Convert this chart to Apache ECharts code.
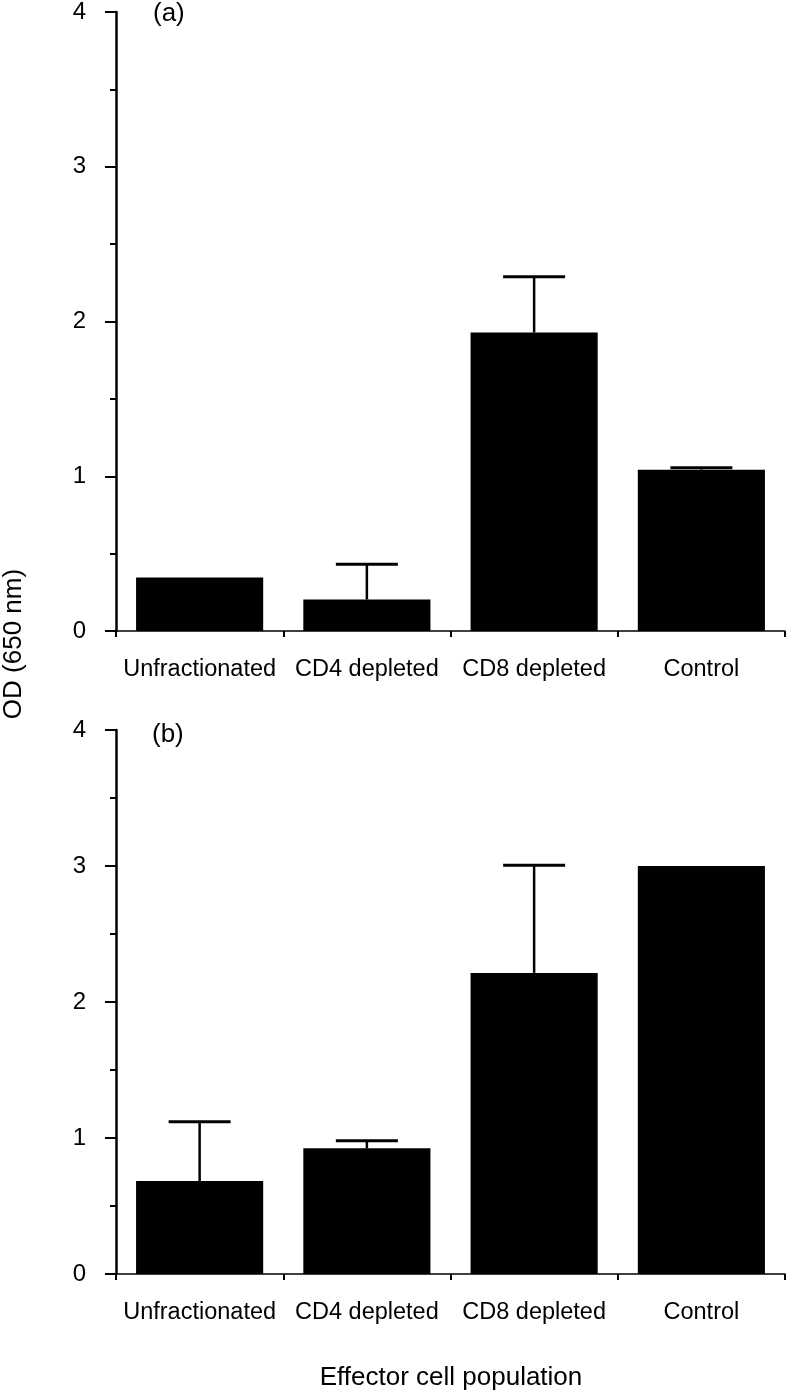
<!DOCTYPE html>
<html>
<head>
<meta charset="utf-8">
<script src="https://cdn.jsdelivr.net/npm/echarts@6/dist/echarts.min.js"></script>
<style>html,body{margin:0;padding:0;background:#fff;}#chart{width:787px;height:1391px;}</style>
</head>
<body>
<div id="chart"></div>
<script>
const categories = ['Unfractionated', 'CD4 depleted', 'CD8 depleted', 'Control'];
const meanA = [0.345, 0.204, 1.929, 1.042];
const upperA = [null, 0.431, 2.289, 1.055];
const meanB = [0.683, 0.924, 2.214, 3.0];
const upperB = [1.119, 0.979, 3.005, null];
const yTicks = [0, 1, 2, 3, 4];
const panelLabels = ['(a)', '(b)'];
const yTitle = 'OD (650 nm)';
const xTitle = 'Effector cell population';

const FONT = '"Liberation Sans", Arial, Helvetica, sans-serif';

function errData(mean, upper) {
  const out = [];
  categories.forEach((c, i) => { if (upper[i] != null) out.push([i, mean[i], upper[i]]); });
  return out;
}

function renderErr(params, api) {
  const base = api.coord([api.value(0), api.value(1)]);
  const top = api.coord([api.value(0), api.value(2)]);
  return {
    type: 'group',
    children: [
      { type: 'line', shape: { x1: base[0], y1: base[1], x2: base[0], y2: top[1] }, style: { stroke: '#000', lineWidth: 2.5 } },
      { type: 'line', shape: { x1: base[0] - 31, y1: top[1], x2: base[0] + 31, y2: top[1] }, style: { stroke: '#000', lineWidth: 3 } }
    ]
  };
}

function xAxisCfg(gi) {
  return {
    type: 'category', gridIndex: gi, data: categories, boundaryGap: true,
    axisLine: { lineStyle: { color: '#000', width: 1.5 } },
    axisTick: { show: true, length: 6, lineStyle: { color: '#000', width: 2 } },
    axisLabel: { color: '#000', fontSize: 23.5, fontFamily: FONT, margin: 27, interval: 0 },
    splitLine: { show: false }
  };
}
function yAxisCfg(gi) {
  return {
    type: 'value', gridIndex: gi, min: yTicks[0], max: yTicks[yTicks.length - 1], interval: 1,
    axisLine: { show: true, lineStyle: { color: '#000', width: 2.5 } },
    axisTick: { show: true, length: 11, lineStyle: { color: '#000', width: 2 } },
    minorTick: { show: true, splitNumber: 2, length: 6, lineStyle: { color: '#000', width: 2 } },
    axisLabel: { color: '#000', fontSize: 24, fontFamily: FONT, margin: 30 },
    splitLine: { show: false }
  };
}

const chart = echarts.init(document.getElementById('chart'), null, { renderer: 'canvas' });
chart.setOption({
  backgroundColor: '#fff',
  animation: false,
  grid: [
    { left: 116, right: 2, top: 9, height: 622 },
    { left: 116, right: 2, top: 730, height: 544 }
  ],
  xAxis: [xAxisCfg(0), xAxisCfg(1)],
  yAxis: [yAxisCfg(0), yAxisCfg(1)],
  series: [
    { type: 'bar', xAxisIndex: 0, yAxisIndex: 0, data: meanA, barWidth: '76%', itemStyle: { color: '#000' }, z: 2 },
    { type: 'custom', xAxisIndex: 0, yAxisIndex: 0, data: errData(meanA, upperA), renderItem: renderErr, z: 3 },
    { type: 'bar', xAxisIndex: 1, yAxisIndex: 1, data: meanB, barWidth: '76%', itemStyle: { color: '#000' }, z: 2 },
    { type: 'custom', xAxisIndex: 1, yAxisIndex: 1, data: errData(meanB, upperB), renderItem: renderErr, z: 3 }
  ],
  graphic: [
    { type: 'text', x: 153, y: 14, style: { text: panelLabels[0], font: '26px ' + FONT, fill: '#000', textAlign: 'left', textVerticalAlign: 'middle' } },
    { type: 'text', x: 152, y: 735, style: { text: panelLabels[1], font: '26px ' + FONT, fill: '#000', textAlign: 'left', textVerticalAlign: 'middle' } },
    { type: 'text', x: 14, y: 644, rotation: Math.PI / 2, style: { text: yTitle, font: '26px ' + FONT, fill: '#000', textAlign: 'center', textVerticalAlign: 'middle' } },
    { type: 'text', x: 451, y: 1378, style: { text: xTitle, font: '26px ' + FONT, fill: '#000', textAlign: 'center', textVerticalAlign: 'middle' } }
  ]
});
</script>
</body>
</html>
